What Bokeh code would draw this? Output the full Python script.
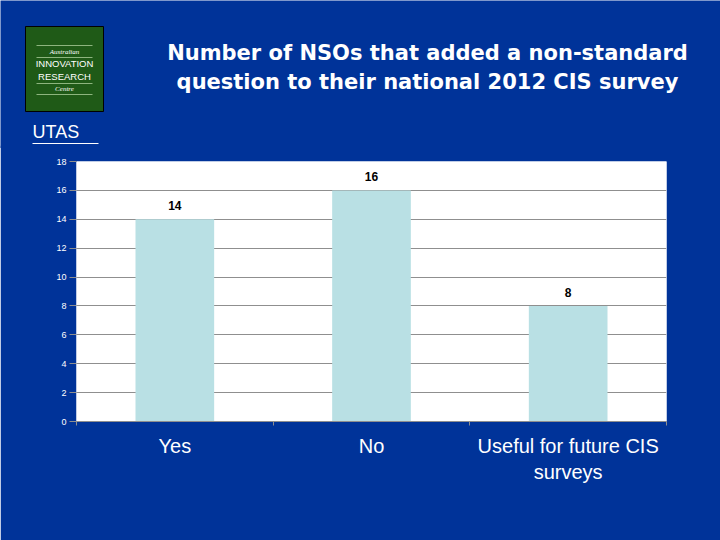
from bokeh.plotting import figure
from bokeh.models import ColumnDataSource, Range1d, FixedTicker, LabelSet
from bokeh.core.properties import value
from bokeh.embed import file_html
from bokeh.resources import INLINE

# ---- data ----
categories = ["Yes", "No", "Useful for future CIS\nsurveys"]
counts = [14, 16, 8]
y_ticks = [0, 2, 4, 6, 8, 10, 12, 14, 16, 18]
title_lines = ["Number of NSOs that added a non-standard",
               "question to their national 2012 CIS survey"]

BG = "#003399"
BAR = "#B9E0E4"
GRID = "#8f8f8f"
W = 720
HEAD_H = 145
OVERLAP = 3

# ---------------- header (logo + title) ----------------
h = figure(width=W, height=HEAD_H + OVERLAP, output_backend="svg", toolbar_location=None,
           x_range=Range1d(0, W), y_range=Range1d(HEAD_H + OVERLAP, 0),
           min_border=0, outline_line_color=None,
           background_fill_color=BG, border_fill_color=BG)
h.axis.visible = False
h.grid.visible = False
h.styles = {"margin-bottom": f"-{OVERLAP}px", "position": "relative", "z-index": "1"}

# title
h.text(x=[427, 427], y=[52, 81], text=title_lines, text_align="center", text_baseline="middle",
       text_color="white", text_font=value("DejaVu Sans"), text_font_size="21px",
       text_font_style="bold")

# logo box
h.quad(left=[25], right=[103], top=[26], bottom=[111], fill_color="#1f5a17",
       line_color="black", line_width=1)
h.segment(x0=[36] * 4, x1=[92] * 4, y0=[45, 57, 83, 94], y1=[45, 57, 83, 94],
          line_color="#a9cc98", line_width=1, line_alpha=0.8)
h.text(x=[64, 64], y=[51, 88], text=["Australian", "Centre"], text_align="center",
       text_baseline="middle", text_color="white", text_font=value("Liberation Serif"),
       text_font_size="7px", text_font_style="italic")
h.text(x=[64, 64], y=[63, 76], text=["INNOVATION", "RESEARCH"], text_align="center",
       text_baseline="middle", text_color="white", text_font=value("Liberation Sans"),
       text_font_size="9.5px")
h.text(x=[32], y=[131], text=["UTAS"], text_align="left", text_baseline="middle",
       text_color="white", text_font=value("Liberation Sans"), text_font_size="18px")
h.segment(x0=[32], x1=[98], y0=[143], y1=[143], line_color="white", line_width=1)

# ---------------- chart ----------------
n = len(categories)
centers = [i + 0.5 for i in range(n)]
src = ColumnDataSource(dict(x=centers, count=counts, label=[str(c) for c in counts]))

p = figure(x_range=Range1d(0, n), y_range=Range1d(0, max(y_ticks)),
           width=W, height=540 - HEAD_H, output_backend="svg", toolbar_location=None,
           min_border_left=76, min_border_right=54, min_border_top=16, min_border_bottom=119,
           background_fill_color="white", border_fill_color=BG, outline_line_color=None)

p.vbar(x="x", top="count", width=0.4, source=src, fill_color=BAR, line_color=None)

p.add_layout(LabelSet(x="x", y="count", text="label", source=src, y_offset=9,
                      text_align="center", text_baseline="bottom",
                      text_font=value("Liberation Sans"), text_font_style="bold",
                      text_font_size="12px", text_color="black"))

# y axis
yax = p.yaxis[0]
yax.ticker = FixedTicker(ticks=y_ticks)
yax.axis_line_color = None
yax.major_tick_line_color = GRID
yax.major_tick_out = 7
yax.major_tick_in = 0
yax.minor_tick_line_color = None
yax.major_label_text_color = "white"
yax.major_label_text_font = "Liberation Sans"
yax.major_label_text_font_size = "9px"
yax.major_label_standoff = 3

p.ygrid.ticker = FixedTicker(ticks=y_ticks)
p.ygrid.grid_line_color = GRID
p.xgrid.visible = False

# x axis: category labels at centers, tick marks at boundaries
xax = p.xaxis[0]
xax.ticker = FixedTicker(ticks=centers, minor_ticks=list(range(n + 1)))
xax.major_label_overrides = {c: cat for c, cat in zip(centers, categories)}
xax.major_tick_line_color = None
xax.minor_tick_line_color = GRID
xax.minor_tick_out = 4
xax.minor_tick_in = 0
xax.axis_line_color = GRID
xax.major_label_text_color = "white"
xax.major_label_text_font = "Liberation Sans"
xax.major_label_text_font_size = "20px"
xax.major_label_standoff = 7

open("out.html", "w").write(file_html([h, p], INLINE))
